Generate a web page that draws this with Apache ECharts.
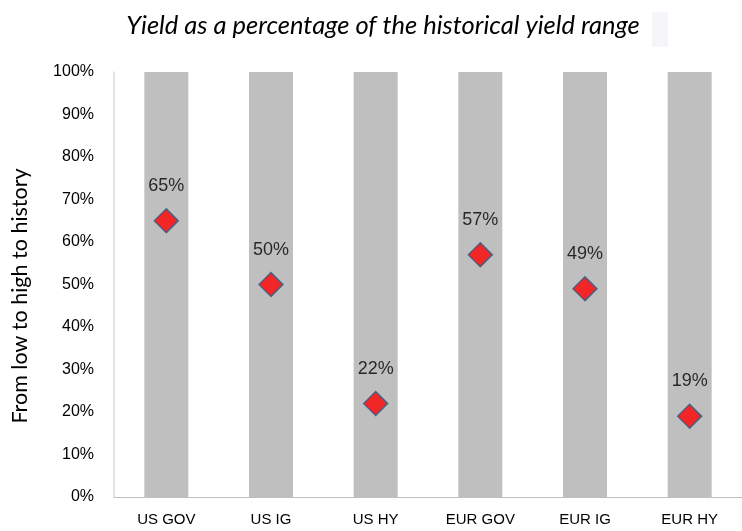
<!DOCTYPE html>
<html>
<head>
<meta charset="utf-8">
<script src="https://cdn.jsdelivr.net/npm/echarts@6/dist/echarts.min.js"></script>
<style>
  html, body { margin: 0; padding: 0; background: #fff; }
  #chart { width: 742px; height: 531px; }
</style>
</head>
<body>
<div id="chart"></div>
<script>
// Asset classes along the x axis
const categories = ['US GOV', 'US IG', 'US HY', 'EUR GOV', 'EUR IG', 'EUR HY'];
// Full historical range (0-100%) shown as a gray column behind each point
const rangeValues = [100, 100, 100, 100, 100, 100];
// Current yield as a percentage of the historical yield range
const yieldPct = [65, 50, 22, 57, 49, 19];
// Y axis tick labels
const yTicks = [0, 10, 20, 30, 40, 50, 60, 70, 80, 90, 100];
const yAxisTitle = 'From low to high to history';

const chart = echarts.init(document.getElementById('chart'));

chart.setOption({
  animation: false,
  backgroundColor: '#ffffff',
  title: {
    text: 'Yield as a percentage of the historical yield range',
    left: 378,
    top: 8,
    textAlign: 'center',
    textStyle: {
      fontFamily: 'Lato',
      fontStyle: 'italic',
      fontWeight: 'normal',
      fontSize: 25.5,
      color: '#000'
    }
  },
  graphic: [
    {
      type: 'rect',
      shape: { x: 652, y: 12, width: 16, height: 35 },
      style: { fill: '#F5F5FA' },
      silent: true
    },
    {
      // vertical axis title, reading bottom to top
      type: 'text',
      x: 20,
      y: 296,
      rotation: Math.PI / 2,
      style: {
        text: yAxisTitle,
        fontFamily: 'Lato',
        fontSize: 21.5,
        fill: '#000',
        align: 'center',
        verticalAlign: 'middle'
      },
      silent: true
    }
  ],
  grid: { left: 114, right: 0, top: 72, bottom: 34 },
  xAxis: {
    type: 'category',
    data: categories,
    axisLine: { show: true, lineStyle: { color: '#BFBFBF', width: 1 } },
    axisTick: { show: false },
    axisLabel: {
      margin: 15,
      fontFamily: 'Liberation Sans',
      fontSize: 15,
      color: '#000'
    }
  },
  yAxis: {
    type: 'value',
    min: yTicks[0],
    max: yTicks[yTicks.length - 1],
    interval: 10,
    axisLine: { show: true, lineStyle: { color: '#D9D9D9', width: 1.5 } },
    axisTick: { show: false },
    splitLine: { show: false },
    axisLabel: {
      margin: 20,
      fontFamily: 'Liberation Sans',
      fontSize: 16,
      color: '#000',
      formatter: v => v + '%'
    }
  },
  series: [
    {
      type: 'bar',
      data: rangeValues,
      barWidth: 44,
      itemStyle: { color: '#BFBFBF' },
      silent: true
    },
    {
      type: 'scatter',
      data: yieldPct,
      symbol: 'diamond',
      symbolSize: 24,
      itemStyle: {
        color: '#FF0000',
        borderColor: '#25608A',
        borderWidth: 1.5
      },
      label: {
        show: true,
        position: 'top',
        distance: 13,
        fontFamily: 'Liberation Sans',
        fontSize: 18,
        color: '#000',
        formatter: p => p.value + '%'
      }
    }
  ]
});
</script>
</body>
</html>
